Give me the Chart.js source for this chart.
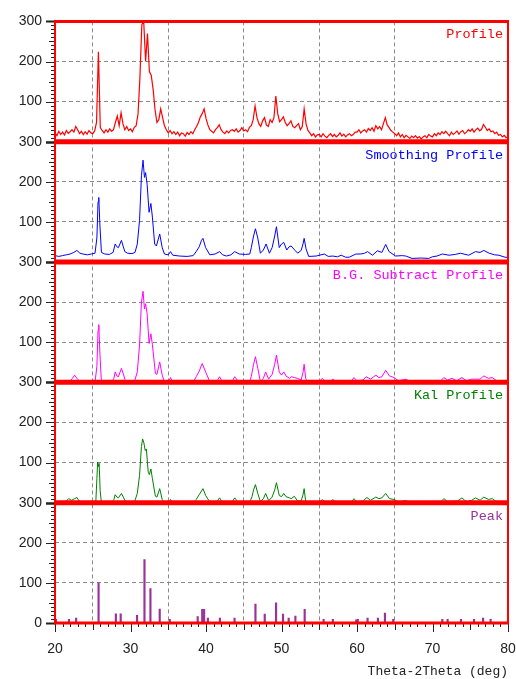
<!DOCTYPE html>
<html>
<head>
<meta charset="utf-8">
<script src="https://cdn.jsdelivr.net/npm/chart.js@4.4.1/dist/chart.umd.min.js"></script>
<style>
  html, body { margin: 0; padding: 0; background: #fff; }
</style>
</head>
<body>
<canvas id="xrd" width="516" height="679"></canvas>
<script>
// raw scan, 0.25 deg steps
const rawAngles = [
  20, 20.25, 20.5, 20.75, 21, 21.25, 21.5, 21.75, 22, 22.25, 22.5, 22.75, 23, 23.25, 23.5, 23.75,
  24, 24.25, 24.5, 24.75, 25, 25.25, 25.5, 25.75, 26, 26.25, 26.5, 26.75, 27, 27.25, 27.5, 27.75,
  28, 28.25, 28.5, 28.75, 29, 29.25, 29.5, 29.75, 30, 30.25, 30.5, 30.75, 31, 31.25, 31.5, 31.75,
  32, 32.25, 32.5, 32.75, 33, 33.25, 33.5, 33.75, 34, 34.25, 34.5, 34.75, 35, 35.25, 35.5, 35.75,
  36, 36.25, 36.5, 36.75, 37, 37.25, 37.5, 37.75, 38, 38.25, 38.5, 38.75, 39, 39.25, 39.5, 39.75,
  40, 40.25, 40.5, 40.75, 41, 41.25, 41.5, 41.75, 42, 42.25, 42.5, 42.75, 43, 43.25, 43.5, 43.75,
  44, 44.25, 44.5, 44.75, 45, 45.25, 45.5, 45.75, 46, 46.25, 46.5, 46.75, 47, 47.25, 47.5, 47.75,
  48, 48.25, 48.5, 48.75, 49, 49.25, 49.5, 49.75, 50, 50.25, 50.5, 50.75, 51, 51.25, 51.5, 51.75,
  52, 52.25, 52.5, 52.75, 53, 53.25, 53.5, 53.75, 54, 54.25, 54.5, 54.75, 55, 55.25, 55.5, 55.75,
  56, 56.25, 56.5, 56.75, 57, 57.25, 57.5, 57.75, 58, 58.25, 58.5, 58.75, 59, 59.25, 59.5, 59.75,
  60, 60.25, 60.5, 60.75, 61, 61.25, 61.5, 61.75, 62, 62.25, 62.5, 62.75, 63, 63.25, 63.5, 63.75,
  64, 64.25, 64.5, 64.75, 65, 65.25, 65.5, 65.75, 66, 66.25, 66.5, 66.75, 67, 67.25, 67.5, 67.75,
  68, 68.25, 68.5, 68.75, 69, 69.25, 69.5, 69.75, 70, 70.25, 70.5, 70.75, 71, 71.25, 71.5, 71.75,
  72, 72.25, 72.5, 72.75, 73, 73.25, 73.5, 73.75, 74, 74.25, 74.5, 74.75, 75, 75.25, 75.5, 75.75,
  76, 76.25, 76.5, 76.75, 77, 77.25, 77.5, 77.75, 78, 78.25, 78.5, 78.75, 79, 79.25, 79.5, 79.75,
  80
];
const rawCounts = [
  22, 15, 26, 18, 24, 17, 28, 21, 25, 30, 24, 38, 30, 20, 26, 18,
  25, 19, 28, 22, 20, 27, 48, 224, 35, 28, 22, 30, 24, 32, 26, 30,
  48, 64, 40, 72, 45, 30, 38, 28, 32, 25, 36, 40, 70, 160, 292, 300,
  200, 270, 175, 165, 130, 80, 48, 55, 82, 60, 40, 30, 22, 28, 20, 25,
  18, 24, 15, 22, 20, 14, 23, 18, 25, 20, 30, 38, 48, 62, 70, 82,
  58, 42, 30, 26, 22, 30, 35, 42, 30, 24, 20, 27, 22, 28, 30, 26,
  32, 24, 28, 35, 27, 30, 25, 36, 40, 55, 89, 60, 45, 38, 52, 60,
  42, 38, 55, 48, 60, 114, 70, 50, 55, 62, 48, 40, 45, 52, 38, 35,
  40, 45, 30, 38, 82, 45, 28, 22, 15, 20, 12, 17, 18, 12, 20, 14,
  10, 16, 20, 13, 18, 12, 16, 22, 14, 19, 12, 17, 20, 15, 18, 24,
  24, 30, 22, 27, 30, 24, 33, 28, 35, 26, 40, 32, 38, 30, 45, 60,
  42, 35, 28, 24, 20, 15, 22, 12, 18, 10, 16, 12, 8, 14, 10, 15,
  9, 13, 7, 12, 15, 10, 18, 14, 12, 20, 15, 22, 18, 25, 20, 26,
  20, 15, 24, 18, 22, 27, 19, 25, 28, 20, 24, 30, 26, 32, 24, 30,
  34, 27, 31, 43, 36, 28, 32, 25, 27, 20, 24, 16, 18, 12, 16, 10,
  12
];

const smoothAngles = [
  20, 20.5, 21, 21.5, 22, 22.5, 22.9, 23.3, 23.7, 24.3, 24.8, 25.3, 25.55, 25.7, 25.8, 25.95,
  26.15, 26.6, 27.2, 27.7, 27.97, 28.2, 28.4, 28.8, 29.05, 29.25, 29.6, 30.2, 30.6, 30.9, 31.2, 31.45,
  31.66, 31.85, 32, 32.2, 32.46, 32.7, 32.9, 33.2, 33.43, 33.87, 34.2, 34.5, 35, 35.3, 35.6, 36.5,
  37.5, 38.3, 38.7, 39.1, 39.4, 39.6, 39.95, 40.5, 41.2, 41.8, 42.2, 42.7, 43.3, 43.8, 44.4, 45.2,
  45.8, 46, 46.3, 46.55, 46.86, 47.2, 47.6, 47.96, 48.4, 48.76, 49.1, 49.33, 49.7, 50, 50.3, 50.7,
  51, 51.27, 51.8, 52.14, 52.6, 52.85, 53, 53.25, 53.6, 54.6, 55.67, 56.2, 56.8, 57.4, 57.9, 58.5,
  58.97, 59.85, 60.5, 61, 61.4, 62.05, 62.7, 63.3, 63.8, 64.25, 65.1, 66, 66.46, 67.3, 68.5, 69.5,
  69.97, 70.6, 71.3, 72.2, 73, 73.7, 74.8, 75.7, 76.3, 76.8, 77.5, 78.2, 78.8, 79.6, 80
];
const smoothCounts = [
  16, 14, 16, 18, 20, 24, 29, 22, 20, 18, 20, 22, 60, 150, 161, 90,
  24, 20, 19, 24, 45, 38, 36, 54, 38, 26, 22, 21, 24, 45, 104, 215,
  254, 211, 223, 194, 124, 146, 112, 45, 40, 70, 36, 20, 18, 26, 17, 15,
  14, 16, 26, 38, 54, 59, 36, 18, 20, 26, 18, 15, 18, 26, 20, 19,
  20, 36, 65, 83, 60, 22, 30, 45, 22, 36, 65, 88, 36, 45, 49, 30,
  38, 40, 29, 22, 29, 45, 59, 33, 14, 15, 20, 14, 15, 13, 17, 12,
  12, 20, 20, 22, 26, 17, 28, 24, 44, 26, 15, 16, 15, 9, 10, 9,
  13, 15, 20, 17, 19, 22, 17, 26, 24, 29, 22, 18, 17, 12, 12
];

const bgAngles = [
  20, 20.5, 21, 21.5, 22, 22.3, 22.6, 22.9, 23.3, 24.5, 25.3, 25.55, 25.7, 25.8, 25.95, 26.15,
  27.5, 27.8, 27.97, 28.2, 28.4, 28.8, 29.1, 29.3, 30.5, 30.9, 31.2, 31.45, 31.66, 31.85, 32, 32.2,
  32.46, 32.7, 32.9, 33.3, 33.5, 33.87, 34.2, 34.5, 35, 35.3, 35.6, 38.3, 38.7, 39.1, 39.5, 39.95,
  40.5, 41.4, 41.8, 42.2, 43.4, 43.8, 44.3, 45.8, 46, 46.3, 46.55, 46.86, 47.2, 47.6, 47.9, 48.3,
  48.76, 49.1, 49.33, 49.7, 50, 50.3, 50.6, 51.05, 51.3, 51.7, 52.1, 52.6, 52.85, 53, 53.2, 53.4,
  55, 55.4, 55.8, 56.4, 56.8, 57.2, 59.2, 59.6, 60, 60.8, 61.2, 61.8, 62.5, 62.9, 63.3, 63.8,
  64.3, 64.9, 65.5, 66.5, 67, 71, 71.5, 72, 72.6, 73.2, 73.9, 74.5, 75.2, 76.3, 76.8, 77.4,
  77.9, 78.5, 79.2, 80
];
const bgCounts = [
  2, 3, 1, 4, 3, 10, 18, 10, 2, 0, 0, 40, 130, 144, 70, 2,
  0, 10, 26, 16, 14, 35, 18, 5, 0, 26, 93, 200, 227, 183, 196, 171,
  97, 121, 94, 22, 20, 51, 18, 0, 0, 12, 0, 0, 14, 28, 47, 26,
  2, 2, 14, 0, 0, 14, 2, 2, 15, 45, 64, 35, 2, 10, 26, 8,
  20, 45, 68, 26, 18, 26, 16, 10, 14, 12, 10, 6, 25, 45, 10, 2,
  2, 10, 2, 2, 8, 2, 2, 12, 4, 6, 14, 8, 18, 12, 14, 30,
  16, 12, 4, 8, 2, 2, 12, 6, 10, 4, 12, 4, 8, 8, 16, 10,
  12, 4, 5, 1
];

const ka1Angles = [
  20, 20.8, 21.5, 21.8, 22.2, 22.6, 22.9, 23.2, 24.3, 25.4, 25.55, 25.65, 25.75, 25.85, 25.98, 26.15,
  27.5, 27.8, 27.97, 28.2, 28.4, 28.8, 29.1, 29.3, 30.5, 30.9, 31.2, 31.45, 31.6, 31.75, 31.95, 32.1,
  32.35, 32.5, 32.7, 32.9, 33.3, 33.5, 33.87, 34.2, 34.5, 35, 35.3, 35.6, 38.3, 38.7, 39.1, 39.6,
  39.95, 40.5, 41.4, 41.8, 42.2, 43.4, 43.8, 44.3, 45.8, 46.1, 46.3, 46.55, 46.86, 47.2, 47.6, 47.9,
  48.3, 48.76, 49.1, 49.33, 49.7, 50, 50.3, 50.6, 51.05, 51.3, 51.7, 52.1, 52.6, 52.85, 53, 53.2,
  54, 55, 55.4, 55.8, 56.4, 56.8, 57.2, 59.2, 59.6, 60, 60.8, 61.3, 61.8, 62.5, 62.9, 63.3,
  63.8, 64.3, 64.9, 65.5, 66.5, 67, 71, 71.5, 72, 73.3, 73.9, 74.5, 75.2, 75.7, 76.3, 76.8,
  77.4, 77.9, 78.5, 80
];
const ka1Counts = [
  1, 2, 4, 10, 6, 10, 13, 4, 0, 0, 60, 101, 90, 98, 30, 0,
  0, 8, 20, 14, 12, 23, 12, 4, 0, 23, 68, 140, 159, 151, 130, 134,
  76, 70, 84, 60, 16, 14, 35, 8, 0, 0, 8, 0, 0, 8, 20, 35,
  18, 2, 2, 12, 0, 0, 12, 0, 2, 15, 32, 45, 23, 3, 10, 23,
  5, 14, 32, 50, 18, 15, 23, 15, 12, 10, 16, 5, 4, 20, 35, 3,
  0, 0, 8, 0, 0, 8, 0, 0, 10, 2, 4, 13, 6, 14, 10, 12,
  23, 10, 8, 2, 5, 0, 0, 10, 3, 4, 12, 2, 6, 12, 6, 14,
  8, 10, 2, 0
];

const peakAngles = [
  20.13, 21.85, 22.8, 25.77, 28.06, 28.7, 30.87, 31.85, 32.64, 33.87, 35.2, 38.9, 39.5,
  39.75, 40.25, 41.84, 43.78, 46.55, 47.78, 49.28, 50.2, 50.95, 51.84, 53.07, 55.58, 56.8,
  59.9, 60.1, 61.4, 62.77, 63.7, 64.8, 71.3, 72, 73.77, 75.5, 76.7, 77.7
];
const peakHeights = [
  9, 9, 12, 100, 23, 23, 19, 158, 86, 35, 9, 16, 34,
  34, 12, 12, 12, 47, 22, 50, 22, 12, 17, 34, 9, 9,
  8, 9, 12, 12, 25, 9, 9, 9, 9, 9, 12, 9
];

// top to bottom
const panelIds = ['yProfile', 'ySmooth', 'yBgSub', 'yKa1', 'yPeak'];
const panelTitles = ['Profile', 'Smoothing Profile', 'B.G. Subtract Profile', 'Kal Profile', 'Peak'];
const yTicks = [0, 100, 200, 300];
const xTicks = [20, 30, 40, 50, 60, 70, 80];

function pairs(xs, ys) {
  return xs.map((x, i) => ({ x: x, y: ys[i] }));
}

function gridColor(hidden) {
  return c => (!c.tick || hidden.includes(c.tick.value) ? 'rgba(0,0,0,0)' : '#8a8a8a');
}

function panelScale(i) {
  const last = i === panelIds.length - 1;
  return {
    type: 'linear',
    position: 'left',
    stack: 'panels',
    stackWeight: 1,
    min: 0,
    max: 300,
    afterFit: s => { s.width = 55; },
    afterBuildTicks: s => { s.ticks = yTicks.map(v => ({ value: v })); },
    border: { display: false, dash: [4, 3] },
    grid: { drawTicks: false, color: gridColor([0, 300]) },
    ticks: {
      padding: 13,
      color: '#222',
      font: { family: 'Liberation Sans', size: 14 },
      callback: v => (v === 0 && !last ? '' : String(v))
    }
  };
}

const scales = {
  x: {
    type: 'linear',
    position: 'bottom',
    min: 20,
    max: 80,
    offset: false,
    afterFit: s => { s.height = 56; s.paddingLeft = 0; s.paddingRight = 0; },
    afterBuildTicks: s => { s.ticks = xTicks.map(v => ({ value: v })); },
    border: { display: false, dash: [4, 3] },
    grid: { drawTicks: false, color: gridColor([20, 80]) },
    ticks: {
      padding: 18,
      color: '#222',
      font: { family: 'Liberation Sans', size: 14 }
    },
    title: {
      display: true,
      text: 'Theta-2Theta (deg)',
      align: 'end',
      color: '#222',
      font: { family: 'Liberation Mono', size: 13 },
      padding: { top: 0, bottom: 0 }
    }
  }
};
// stacked axes are laid out bottom-up, so add the lowest panel first
for (let i = panelIds.length - 1; i >= 0; i--) {
  scales[panelIds[i]] = panelScale(i);
}

// red frame, tick marks and panel captions
const framePlugin = {
  id: 'framePlugin',
  afterDatasetsDraw(chart) {
    const { ctx, chartArea: a } = chart;
    ctx.save();
    ctx.strokeStyle = '#222';
    panelIds.forEach(id => {
      const s = chart.scales[id];
      for (let v = 0; v <= 300; v += 10) {
        const y = Math.round(s.getPixelForValue(v)) + 0.5;
        const len = v % 100 === 0 ? 9 : (v % 50 === 0 ? 6 : 4);
        ctx.lineWidth = v % 300 === 0 ? 2 : 1;
        ctx.beginPath();
        ctx.moveTo(a.left - len, y);
        ctx.lineTo(a.left, y);
        ctx.stroke();
      }
    });
    const sx = chart.scales.x;
    ctx.lineWidth = 1;
    for (let v = 20; v <= 80; v += 1) {
      const x = Math.round(sx.getPixelForValue(v)) + 0.5;
      const len = v % 10 === 0 ? 9 : (v % 5 === 0 ? 7 : 4);
      ctx.beginPath();
      ctx.moveTo(x, a.bottom);
      ctx.lineTo(x, a.bottom + len);
      ctx.stroke();
    }

    ctx.strokeStyle = '#ff0000';
    ctx.lineWidth = 2;
    ctx.beginPath();
    ctx.moveTo(a.left, a.top);
    ctx.lineTo(a.left, a.bottom);
    ctx.moveTo(a.right, a.top);
    ctx.lineTo(a.right, a.bottom);
    ctx.stroke();
    ctx.lineWidth = 3;
    ctx.beginPath();
    ctx.moveTo(a.left - 1, a.top);
    ctx.lineTo(a.right + 1, a.top);
    ctx.moveTo(a.left - 1, a.bottom);
    ctx.lineTo(a.right + 1, a.bottom);
    ctx.stroke();
    ctx.lineWidth = 5;
    panelIds.slice(0, -1).forEach(id => {
      const y = chart.scales[id].bottom;
      ctx.beginPath();
      ctx.moveTo(a.left - 1, y);
      ctx.lineTo(a.right + 1, y);
      ctx.stroke();
    });

    ctx.font = '13.5px "Liberation Mono"';
    ctx.textAlign = 'right';
    ctx.textBaseline = 'middle';
    panelIds.forEach((id, i) => {
      ctx.fillStyle = chart.data.datasets[i].borderColor;
      ctx.fillText(panelTitles[i], a.right - 5, chart.scales[id].top + 13.5);
    });
    ctx.restore();
  }
};

new Chart(document.getElementById('xrd'), {
  type: 'line',
  data: {
    datasets: [
      { label: 'Profile', data: pairs(rawAngles, rawCounts), yAxisID: 'yProfile', borderColor: '#ff0000', borderWidth: 1.2 },
      { label: 'Smoothing Profile', data: pairs(smoothAngles, smoothCounts), yAxisID: 'ySmooth', borderColor: '#0000ff' },
      { label: 'B.G. Subtract Profile', data: pairs(bgAngles, bgCounts), yAxisID: 'yBgSub', borderColor: '#ff00ff' },
      { label: 'Kal Profile', data: pairs(ka1Angles, ka1Counts), yAxisID: 'yKa1', borderColor: '#008000' },
      {
        type: 'bar', label: 'Peak', data: pairs(peakAngles, peakHeights), yAxisID: 'yPeak',
        borderColor: '#993399', backgroundColor: '#993399', borderWidth: 0, barThickness: 1.5, grouped: false
      }
    ]
  },
  options: {
    responsive: false,
    animation: false,
    layout: { padding: { top: 20, right: 8, left: 0, bottom: 0 } },
    elements: { point: { radius: 0 }, line: { borderWidth: 1, tension: 0 } },
    plugins: { legend: { display: false }, tooltip: { enabled: false } },
    scales: scales
  },
  plugins: [framePlugin]
});
</script>
</body>
</html>
